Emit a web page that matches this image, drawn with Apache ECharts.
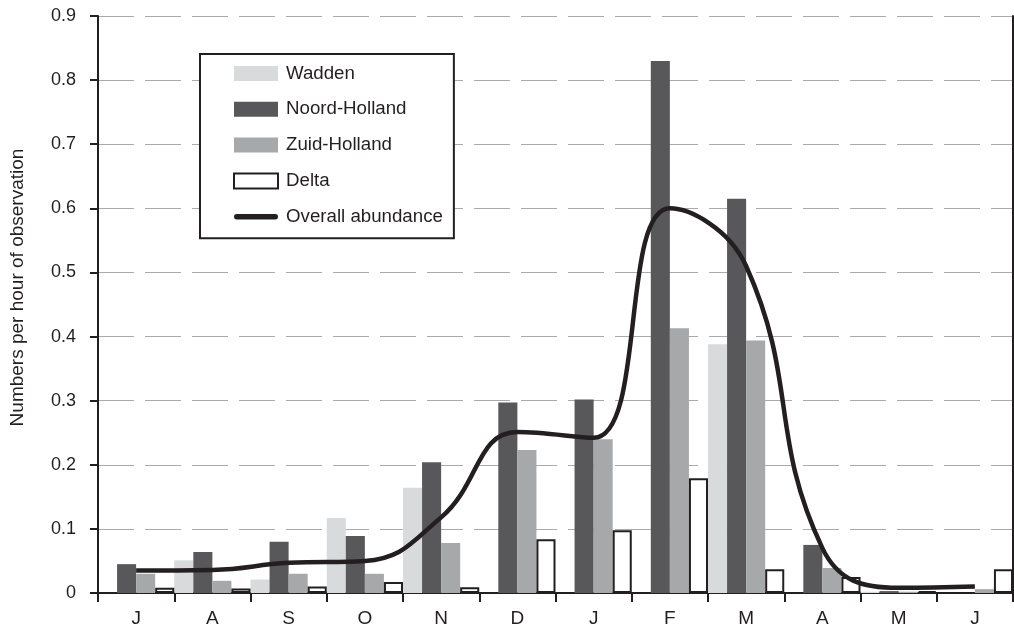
<!DOCTYPE html>
<html>
<head>
<meta charset="utf-8">
<script src="https://cdn.jsdelivr.net/npm/echarts@6/dist/echarts.min.js"></script>
<style>
html,body{margin:0;padding:0;background:#fff;}
#chart{width:1014px;height:628px;}
</style>
</head>
<body>
<div id="chart"></div>
<script>
var months = ['J','A','S','O','N','D','J','F','M','A','M','J'];
var wadden = [0, 0.051, 0.021, 0.117, 0.164, 0, 0, 0, 0.388, 0, 0.002, 0];
var noordHolland = [0.045, 0.064, 0.080, 0.089, 0.204, 0.297, 0.302, 0.830, 0.615, 0.075, 0.003, 0];
var zuidHolland = [0.030, 0.019, 0.030, 0.030, 0.078, 0.223, 0.240, 0.413, 0.394, 0.039, 0.002, 0.006];
var delta = [0.008, 0.007, 0.010, 0.017, 0.009, 0.084, 0.098, 0.179, 0.037, 0.025, 0.003, 0.037];
var overall = [0.035, 0.036, 0.047, 0.050, 0.118, 0.251, 0.242, 0.600, 0.510, 0.070, 0.008, 0.010];
var yTicks = ['0','0.1','0.2','0.3','0.4','0.5','0.6','0.7','0.8','0.9'];

var textColor = '#231f20';
var chart = echarts.init(document.getElementById('chart'));
chart.setOption({
  animation: false,
  backgroundColor: '#fff',
  textStyle: {fontFamily: 'Liberation Sans, Arial, sans-serif'},
  grid: {left: 96, right: 1, top: 16, bottom: 34, containLabel: false},
  legend: {
    orient: 'vertical',
    left: 200, top: 54,
    padding: [10, 11, 12, 33],
    itemGap: 16.8,
    itemWidth: 44, itemHeight: 15,
    symbolKeepAspect: true,
    borderColor: '#231f20', borderWidth: 2,
    backgroundColor: '#fff',
    textStyle: {fontSize: 18.7, color: textColor, padding: [0, 0, 0, 3]},
    data: [
      {name: 'Wadden', icon: 'rect'},
      {name: 'Noord-Holland', icon: 'rect'},
      {name: 'Zuid-Holland', icon: 'rect'},
      {name: 'Delta', icon: 'rect'},
      {name: 'Overall abundance', icon: 'path://M3,0 L45,0 A3,3 0 0 1 45,6 L3,6 A3,3 0 0 1 3,0 Z',
        itemStyle: {color: '#231f20', borderWidth: 0}}
    ]
  },
  xAxis: {
    type: 'category',
    data: months,
    boundaryGap: true,
    axisLine: {lineStyle: {color: '#231f20', width: 2}},
    axisTick: {show: true, alignWithLabel: false, length: 9, lineStyle: {color: '#231f20', width: 2}},
    axisLabel: {fontSize: 19, color: textColor, margin: 16},
    splitLine: {show: false}
  },
  yAxis: [{
    type: 'value',
    min: 0, max: 0.9, interval: 0.1,
    name: 'Numbers per hour of observation',
    nameLocation: 'middle',
    nameGap: 71,
    nameTextStyle: {fontSize: 19, color: textColor, padding: [0, 0, 0, 34]},
    axisLine: {show: true, lineStyle: {color: '#231f20', width: 2}},
    axisTick: {show: true, inside: false, length: 8, lineStyle: {color: '#231f20', width: 2}},
    axisLabel: {fontSize: 18, color: textColor, margin: 22,
      formatter: function (v) { return yTicks[Math.round(v * 10)]; }},
    splitLine: {show: true, lineStyle: {color: '#aaaaaa', width: 1, type: [36, 11]}}
  }, {
    type: 'value',
    position: 'right',
    min: 0, max: 0.9, interval: 0.1,
    axisLine: {show: true, lineStyle: {color: '#231f20', width: 2}},
    axisTick: {show: false},
    axisLabel: {show: false},
    splitLine: {show: false}
  }],
  series: [
    {name: 'Wadden', type: 'bar', data: wadden, barGap: '0%', barCategoryGap: '0%',
      itemStyle: {color: '#d9dadb'}},
    {name: 'Noord-Holland', type: 'bar', data: noordHolland, barGap: '0%', barCategoryGap: '0%',
      itemStyle: {color: '#58585a'}},
    {name: 'Zuid-Holland', type: 'bar', data: zuidHolland, barGap: '0%', barCategoryGap: '0%',
      itemStyle: {color: '#a7a8aa'}},
    {name: 'Delta', type: 'bar', data: delta, barGap: '0%', barCategoryGap: '0%',
      itemStyle: {color: '#ffffff', borderColor: '#231f20', borderWidth: 2}},
    {name: 'Overall abundance', type: 'line', data: overall, smooth: 0.45,
      symbol: 'none', z: 10,
      itemStyle: {color: '#231f20'},
      lineStyle: {color: '#231f20', width: 4.5}}
  ]
});
</script>
</body>
</html>
